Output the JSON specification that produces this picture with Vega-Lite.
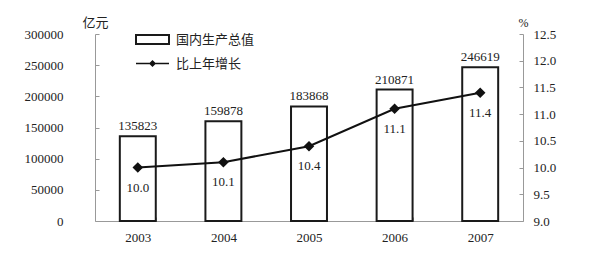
{
  "$schema": "https://vega.github.io/schema/vega-lite/v6.json",
  "width": 428,
  "height": 187,
  "autosize": {"type": "none"},
  "padding": {"left": 95, "top": 34, "right": 77, "bottom": 49},
  "background": "white",
  "config": {
    "view": {"stroke": null},
    "font": "Liberation Serif",
    "axis": {"grid": false, "labelOverlap": false, "domainColor": "#999999", "tickColor": "#999999", "labelColor": "#222222", "labelFontSize": 13, "labelFont": "Liberation Serif"}
  },
  "data": {
    "values": [
      {"year": "2003", "gdp": 135823, "growth": 10.0},
      {"year": "2004", "gdp": 159878, "growth": 10.1},
      {"year": "2005", "gdp": 183868, "growth": 10.4},
      {"year": "2006", "gdp": 210871, "growth": 11.1},
      {"year": "2007", "gdp": 246619, "growth": 11.4}
    ]
  },
  "encoding": {
    "x": {
      "field": "year", "type": "ordinal",
      "scale": {"paddingInner": 0.58, "paddingOuter": 0.29},
      "axis": {"title": null, "labelAngle": 0, "labelPadding": 14, "tickSize": -4, "tickBand": "extent"}
    }
  },
  "layer": [
    {
      "encoding": {
        "y": {
          "field": "gdp", "type": "quantitative",
          "scale": {"domain": [0, 300000]},
          "axis": {"title": "亿元", "titleAngle": 0, "titleX": 0, "titleY": -12, "titleAlign": "center", "titleBaseline": "middle", "titleFont": "Noto Sans CJK SC", "titleFontSize": 13, "titleFontWeight": "normal", "titleColor": "#222222", "values": [0, 50000, 100000, 150000, 200000, 250000, 300000], "format": "d", "tickSize": -4, "labelPadding": 36, "labelOverlap": false}
        }
      },
      "layer": [
        {
          "mark": {"type": "bar", "stroke": "#1a1a1a", "strokeWidth": 2},
          "encoding": {
            "fill": {
              "datum": "国内生产总值",
              "scale": {"range": ["white"]},
              "legend": {"orient": "none", "legendX": 40, "legendY": -12, "title": null, "symbolType": "M-1,-0.27L1,-0.27L1,0.27L-1,0.27Z", "symbolSize": 1089, "symbolStrokeColor": "#1a1a1a", "symbolStrokeWidth": 2, "labelFont": "Noto Sans CJK SC", "labelFontSize": 13, "labelColor": "#222222", "labelOffset": 6}
            }
          }
        },
        {
          "mark": {"type": "text", "baseline": "bottom", "dy": -3, "fontSize": 13, "color": "#222222", "font": "Liberation Serif"},
          "encoding": {
            "text": {"field": "gdp", "type": "quantitative", "format": "d"}
          }
        }
      ]
    },
    {
      "encoding": {
        "y": {
          "field": "growth", "type": "quantitative",
          "scale": {"domain": [9, 12.5]},
          "axis": {"orient": "right", "title": "%", "titleAngle": 0, "titleX": 0, "titleY": -12, "titleAlign": "center", "titleBaseline": "middle", "titleFont": "Liberation Serif", "titleFontSize": 12, "titleFontWeight": "normal", "titleColor": "#222222", "values": [9, 9.5, 10, 10.5, 11, 11.5, 12, 12.5], "format": ".1f", "tickSize": -4, "labelPadding": 14, "labelOverlap": false}
        }
      },
      "layer": [
        {
          "mark": {"type": "line", "strokeWidth": 2, "point": {"filled": true, "shape": "diamond", "size": 60, "color": "#111111"}},
          "encoding": {
            "stroke": {
              "datum": "比上年增长",
              "scale": {"range": ["#111111"]},
              "legend": {"orient": "none", "legendX": 40, "legendY": 12, "title": null, "symbolType": "M-1,0L1,0M-0.15,0L0,-0.15L0.15,0L0,0.15Z", "symbolSize": 1089, "symbolFillColor": "#111111", "symbolStrokeWidth": 1.5, "labelFont": "Noto Sans CJK SC", "labelFontSize": 13, "labelColor": "#222222", "labelOffset": 6}
            }
          }
        },
        {
          "mark": {"type": "text", "baseline": "middle", "dy": 20, "fontSize": 13, "color": "#222222", "font": "Liberation Serif"},
          "encoding": {
            "text": {"field": "growth", "type": "quantitative", "format": ".1f"}
          }
        }
      ]
    }
  ],
  "resolve": {"scale": {"y": "independent"}}
}
